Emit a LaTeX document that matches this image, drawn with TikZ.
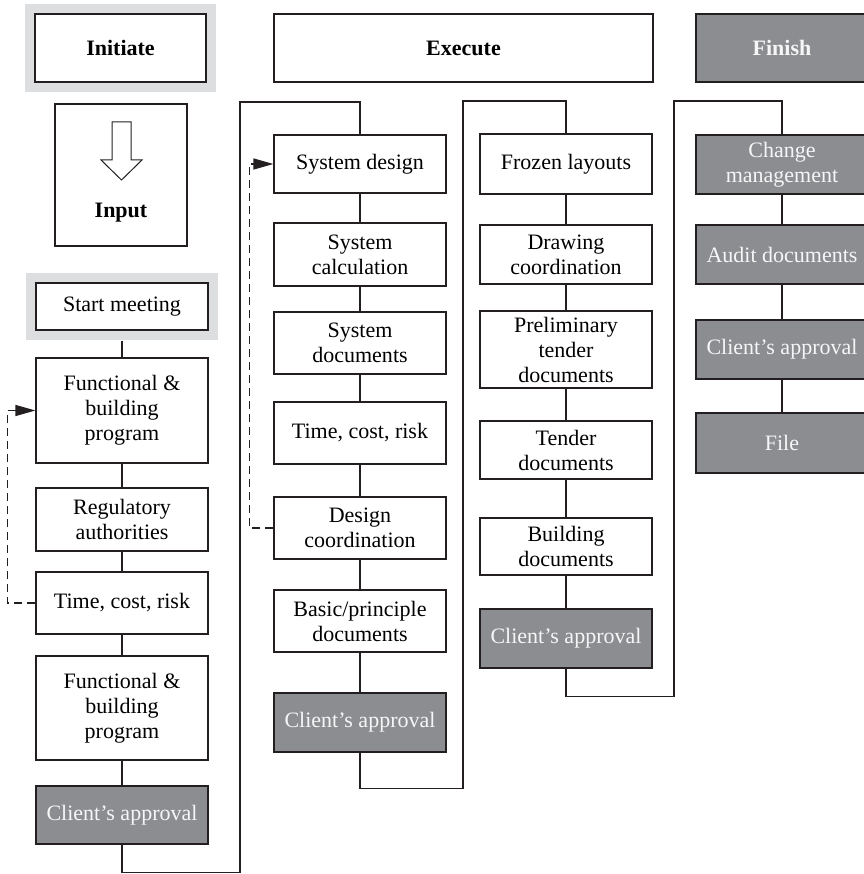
\documentclass[tikz,border=0pt]{standalone}
\usepackage{fontspec}
\setmainfont{Liberation Serif}
\usetikzlibrary{arrows.meta}
\definecolor{BoxLine}{RGB}{35,31,32}
\definecolor{ApprovalGray}{RGB}{140,141,145}
\definecolor{BandGray}{RGB}{221,222,223}
\definecolor{PaleText}{RGB}{246,246,246}

\begin{document}
\begin{tikzpicture}[x=1pt,y=-1pt,
    every node/.style={font=\fontsize{22}{25}\selectfont},
    box/.style={draw=BoxLine,line width=1.2pt,fill=white,align=center,
      minimum width=172pt,inner sep=0pt},
    grey/.style={box,fill=ApprovalGray,text=PaleText},
    banded/.style={box,preaction={draw=BandGray,line width=20pt}},
    head/.style={font=\fontsize{22}{25}\selectfont\bfseries},
    link/.style={draw=BoxLine,line width=1.2pt},
    back/.style={link,line width=1.4pt,dash pattern=on 8pt off 5pt,
      -{Triangle[length=20pt,width=11pt]}}]
  \useasboundingbox (0,0) rectangle (863,874);
  % headers
  \node[banded,head,minimum width=171pt,minimum height=68pt] (init) at (120.5,48) {Initiate};
  \node[box,head,minimum width=379pt,minimum height=68pt] (exec) at (463.5,48) {Execute};
  \node[grey,head,minimum height=68pt] (fin) at (782,48) {Finish};
  % input
  \node[box,minimum width=132pt,minimum height=142pt] (input) at (121,175) {};
  \draw[draw=BoxLine,line width=1pt,fill=white] (112,122) -- (131,122) -- (131,160)
    -- (142,160) -- (121.5,180) -- (101,160) -- (112,160) -- cycle;
  \node[head] (inputlbl) at (121,213) {Input};
  % initiate column
  \node[banded,minimum height=47pt] (start) at (122,306.5) {Start meeting};
  \node[box,minimum height=105pt] (fbp1) at (122,410.5) {Functional \&\\building\\program};
  \node[box,minimum height=63pt] (reg) at (122,519.5) {Regulatory\\authorities};
  \node[box,minimum height=62pt] (tcr1) at (122,603) {Time, cost, risk};
  \node[box,minimum height=104pt] (fbp2) at (122,708) {Functional \&\\building\\program};
  \node[grey,minimum height=58pt] (ca1) at (122,815) {Client’s approval};
  % execute, first column
  \node[box,minimum height=58pt] (sd) at (360,164) {System design};
  \node[box,minimum height=63pt] (scalc) at (360,254.5) {System\\calculation};
  \node[box,minimum height=62pt] (sdoc) at (360,343) {System\\documents};
  \node[box,minimum height=62pt] (tcr2) at (360,433) {Time, cost, risk};
  \node[box,minimum height=62pt] (dc) at (360,528) {Design\\coordination};
  \node[box,minimum height=62pt] (bpd) at (360,621) {Basic/principle\\documents};
  \node[grey,minimum height=59pt] (ca2) at (360,722.5) {Client’s approval};
  % execute, second column
  \node[box,minimum height=60pt] (fl) at (566,164) {Frozen layouts};
  \node[box,minimum height=59pt] (dcoord) at (566,254.5) {Drawing\\coordination};
  \node[box,minimum height=77pt] (ptd) at (566,349.5) {Preliminary\\tender\\documents};
  \node[box,minimum height=58pt] (td) at (566,450) {Tender\\documents};
  \node[box,minimum height=57pt] (bd) at (566,546.5) {Building\\documents};
  \node[grey,minimum height=59pt] (ca3) at (566,638.5) {Client’s approval};
  % finish column
  \node[grey,minimum height=59pt] (cm) at (782,164.5) {Change\\management};
  \node[grey,minimum height=59pt] (ad) at (782,254.5) {Audit documents};
  \node[grey,minimum height=59pt] (ca4) at (782,349.5) {Client’s approval};
  \node[grey,minimum height=60pt] (file) at (782,443) {File};

  \draw[link] ([yshift=-10pt]start.south) -- (fbp1.north);
  \foreach \a/\b in {fbp1/reg,reg/tcr1,tcr1/fbp2,fbp2/ca1,
      sd/scalc,scalc/sdoc,sdoc/tcr2,tcr2/dc,dc/bpd,bpd/ca2,
      fl/dcoord,dcoord/ptd,ptd/td,td/bd,bd/ca3,
      cm/ad,ad/ca4,ca4/file}
    \draw[link] (\a.south) -- (\b.north);

  % hand-over between the columns
  \coordinate (turnA) at (240,102);
  \coordinate (turnB) at (463,101);
  \coordinate (turnC) at (674,101);
  \draw[link] (ca1.south) -- ++(0,28) -| (turnA) -| (sd.north);
  \draw[link] (ca2.south) -- ++(0,36) -| (turnB) -| (fl.north);
  \draw[link] (ca3.south) -- ++(0,28) -| (turnC) -| (cm.north);

  % feedback loops
  \draw[back] (tcr1.west) -- ++(-28,0) |- (fbp1.west);
  \draw[back] (dc.west) -- ++(-24,0) |- (sd.west);
\end{tikzpicture}
\end{document}
